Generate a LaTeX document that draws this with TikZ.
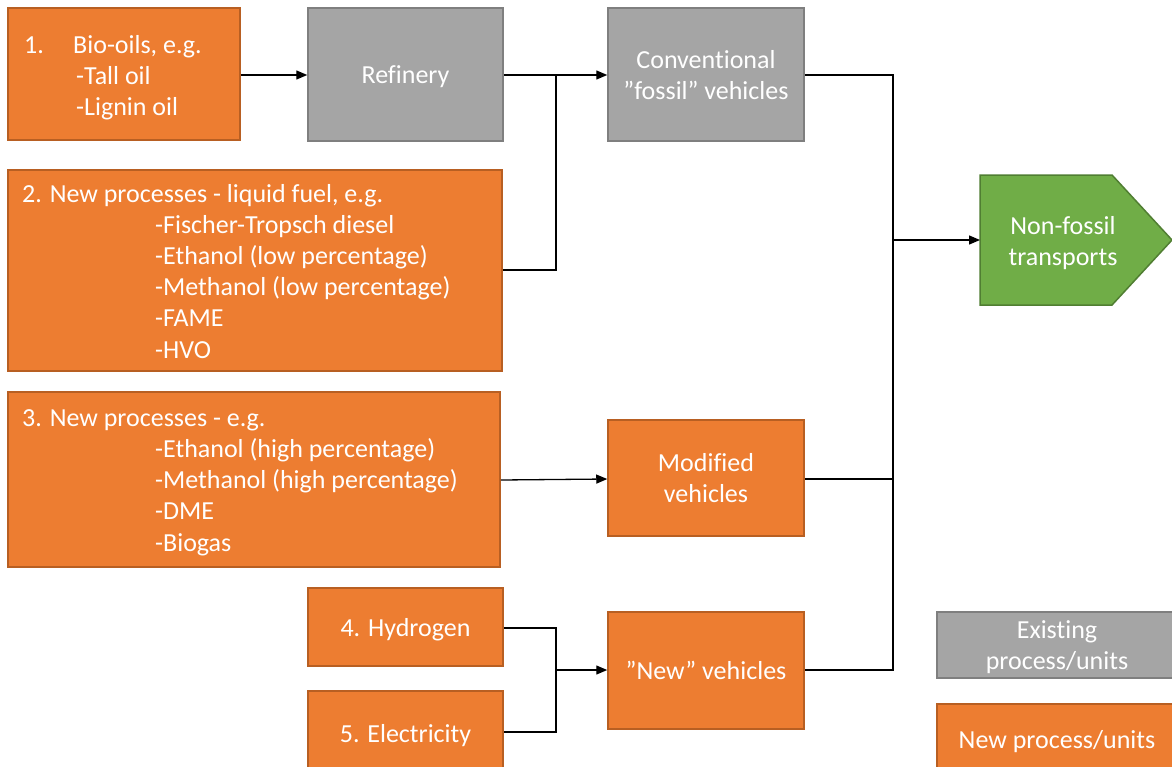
\documentclass[tikz,border=0pt]{standalone}
\usepackage{fontspec}
\setmainfont{Carlito}[Ligatures=NoCommon]
\usetikzlibrary{arrows.meta}
\definecolor{orfill}{HTML}{ED7D31}
\definecolor{ordraw}{HTML}{B85F22}
\definecolor{gyfill}{HTML}{A5A5A5}
\definecolor{gydraw}{HTML}{7F7F7F}
\definecolor{grfill}{HTML}{70AD47}
\definecolor{grdraw}{HTML}{507E32}
\tikzset{
  box/.style={draw, line width=1.5pt, inner sep=0pt, text=white, align=center,
    text depth=0pt, font=\fontsize{26}{31}\selectfont},
  newbox/.style={box, fill=orfill, draw=ordraw},
  oldbox/.style={box, fill=gyfill, draw=gydraw},
  txt/.style={anchor=base west, inner sep=0pt, text=white, font=\fontsize{26}{31}\selectfont},
  conn/.style={line width=1.3pt, draw=black},
  arr/.style={conn, -{Triangle[length=11pt,width=9pt]}}
}
\begin{document}
\begin{tikzpicture}[x=1pt,y=-1pt]
\useasboundingbox (0,0) rectangle (1172,766);
% boxes
\node[newbox, minimum width=232, minimum height=132] (b1) at (124,74) {};
\node[oldbox, minimum width=195, minimum height=133] (ref) at (405.5,74.5) {Refinery};
\node[oldbox, minimum width=196, minimum height=133] (conv) at (706,74.5) {Conventional\\”fossil” vehicles};
\node[newbox, minimum width=494, minimum height=201] (b2) at (255,270.5) {};
\node[newbox, minimum width=492, minimum height=175] (b3) at (254,479.5) {};
\node[newbox, minimum width=196, minimum height=116] (mod) at (706,478) {Modified\\vehicles};
\node[newbox, minimum width=195, minimum height=78] (hyd) at (405.5,627) {4. Hydrogen};
\node[newbox, minimum width=195, minimum height=84] (ele) at (405.5,733) {5. Electricity};
\node[newbox, minimum width=196, minimum height=117] (nv) at (706,670.5) {”New” vehicles};
\node[oldbox, minimum width=240, minimum height=66] (ex) at (1057,645) {Existing\\process/units};
\node[newbox, minimum width=240, minimum height=70] (np) at (1057,739) {New process/units};
% non-fossil pentagon
\draw[line width=1.5pt, draw=grdraw, fill=grfill] (980,175) -- (1112,175) -- (1172,240) -- (1112,305) -- (980,305) -- cycle;
\coordinate (nfw) at (980,240);
\node[box, draw=none] (nf) at (1063,241) {Non-fossil\\transports};
% box texts
\node[txt] (t1a) at (24,53) {1.};
\node[txt] (t1b) at (73,53) {Bio-oils, e.g.};
\node[txt] (t1c) at (76,84) {-Tall oil};
\node[txt] (t1d) at (76,115) {-Lignin oil};
\node[txt] (t2a) at (22,202) {2. New processes - liquid fuel, e.g.};
\node[txt] (t2b) at (155,233) {-Fischer-Tropsch diesel};
\node[txt] (t2c) at (155,264) {-Ethanol (low percentage)};
\node[txt] (t2d) at (155,295) {-Methanol (low percentage)};
\node[txt] (t2e) at (155,326) {-FAME};
\node[txt] (t2f) at (155,358) {-HVO};
\node[txt] (t3a) at (22,426) {3. New processes - e.g.};
\node[txt] (t3b) at (155,457) {-Ethanol (high percentage)};
\node[txt] (t3c) at (155,488) {-Methanol (high percentage)};
\node[txt] (t3d) at (155,519) {-DME};
\node[txt] (t3e) at (155,551) {-Biogas};
% connectors
\coordinate (j1) at (556,75);
\coordinate (j2) at (893,240);
\coordinate (j3) at (556,670);
\draw[arr] (b1.east |- 0,75) -- (ref.west |- 0,75);
\draw[arr] (ref.east |- 0,75) -- (conv.west |- 0,75);
\draw[conn] (b2.east |- 0,270) -| (j1);
\draw[arr] (b3.east |- 0,480) -- (mod.west |- 0,479);
\draw[conn] (hyd.east |- 0,628) -| (j3);
\draw[conn] (ele.east |- 0,732) -| (j3);
\draw[arr] (j3) -- (nv.west |- 0,670);
\draw[conn] (conv.east |- 0,75) -| (j2);
\draw[conn] (mod.east |- 0,479) -| (j2);
\draw[conn] (nv.east |- 0,670) -| (j2);
\draw[arr] (j2) -- (nfw);
\end{tikzpicture}
\end{document}
